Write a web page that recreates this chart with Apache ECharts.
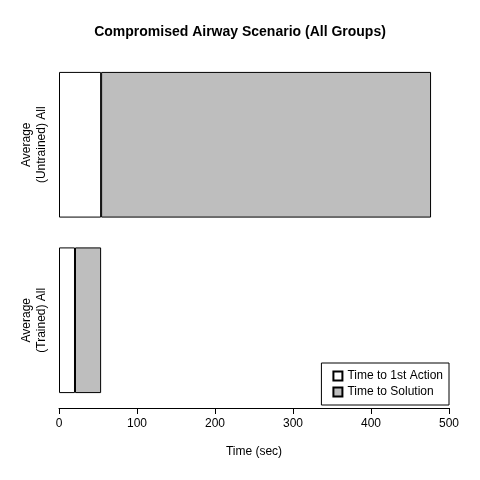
<!DOCTYPE html>
<html>
<head>
<meta charset="utf-8">
<script src="https://cdn.jsdelivr.net/npm/echarts@6/dist/echarts.min.js"></script>
<style>html,body{margin:0;padding:0;background:#fff}#main{width:480px;height:480px}</style>
</head>
<body>
<div id="main"></div>
<script>
// groups, bottom to top
var groups = ['Average\n(Trained) All', 'Average\n(Untrained) All'];
var firstAction = [20.5, 54];
var toSolution = [33.5, 423];
var xTicks = [0, 100, 200, 300, 400, 500];

var chart = echarts.init(document.getElementById('main'));
var font = 'Liberation Sans, Arial, sans-serif';
chart.setOption({
  animation: false,
  title: {
    text: 'Compromised Airway Scenario (All Groups)',
    left: 'center', top: 20,
    textStyle: { fontSize: 14, fontWeight: 'bold', color: '#000', fontFamily: font }
  },
  legend: {
    orient: 'vertical', right: 31, bottom: 75,
    padding: [7, 6, 7, 11], itemGap: 4,
    icon: 'rect', itemWidth: 9, itemHeight: 9,
    borderColor: '#000', borderWidth: 1, borderRadius: 0,
    textStyle: { fontSize: 12, color: '#000', fontFamily: font },
    data: ['Time to 1st Action', 'Time to Solution']
  },
  grid: { left: 59, right: 31, top: 57, bottom: 72 },
  xAxis: {
    type: 'value', min: xTicks[0], max: xTicks[xTicks.length - 1], interval: 100,
    name: 'Time (sec)', nameLocation: 'middle', nameGap: 38,
    nameTextStyle: { fontSize: 12, color: '#000', fontFamily: font },
    axisLine: { show: true, lineStyle: { color: '#000' } },
    axisTick: { show: true, length: 6, lineStyle: { color: '#000' } },
    axisLabel: { fontSize: 12, color: '#000', fontFamily: font, margin: 10 },
    splitLine: { show: false }
  },
  yAxis: {
    type: 'category', data: groups,
    axisLine: { show: false }, axisTick: { show: false },
    axisLabel: { rotate: 90, fontSize: 12, color: '#000', fontFamily: font, margin: 10, lineHeight: 15, align: 'center' }
  },
  series: [
    { name: 'Time to 1st Action', type: 'bar', stack: 't', data: firstAction,
      barCategoryGap: '17%',
      itemStyle: { color: '#fff', borderColor: '#000', borderWidth: 1 } },
    { name: 'Time to Solution', type: 'bar', stack: 't', data: toSolution,
      itemStyle: { color: '#bebebe', borderColor: '#000', borderWidth: 1 } }
  ]
});
</script>
</body>
</html>
